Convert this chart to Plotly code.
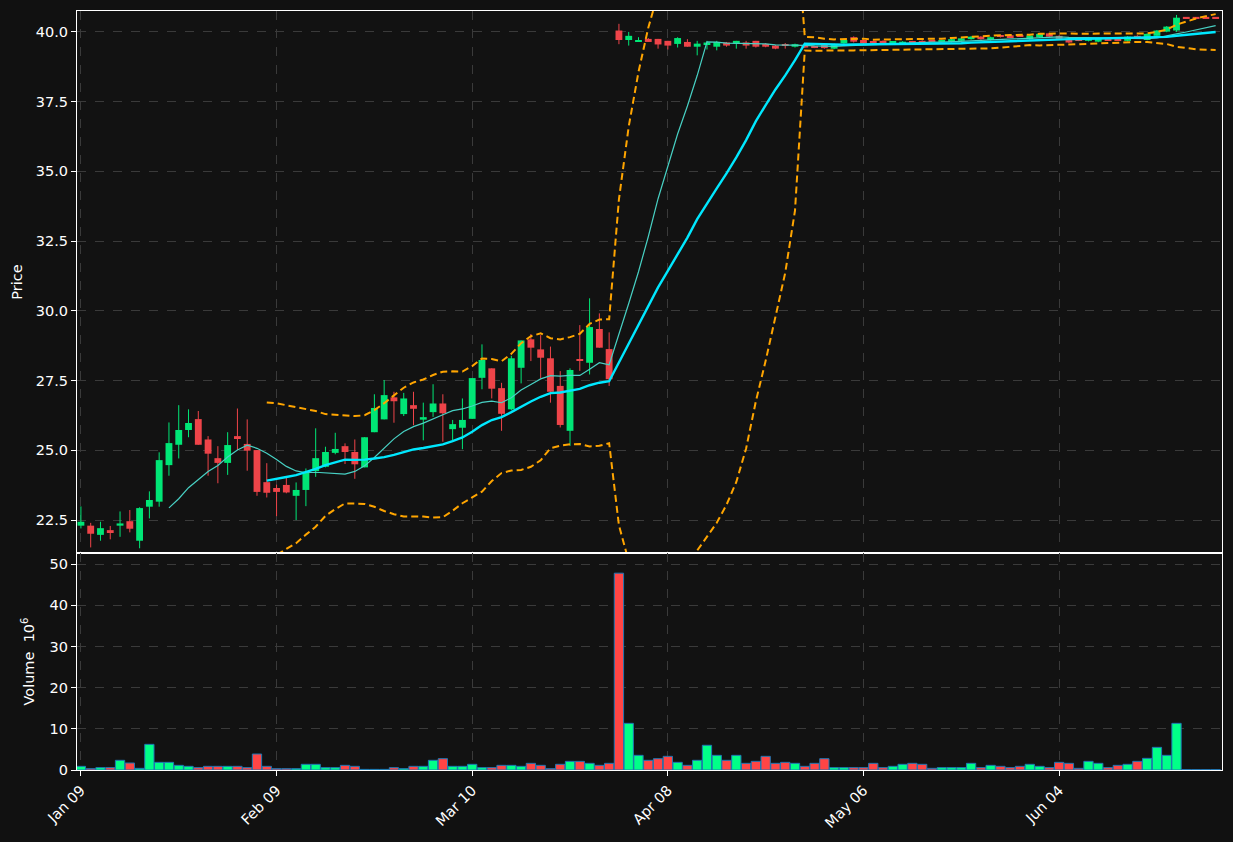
import numpy as np
import pandas as pd
import plotly.graph_objects as go

# ---------------- data ----------------
tick_pos = [0, 20, 40, 60, 80, 100]
tick_labels = ['Jan 09', 'Feb 09', 'Mar 10', 'Apr 08', 'May 06', 'Jun 04']

opens = [22.30, 22.30, 21.97, 22.14, 22.30, 22.46, 21.76, 22.98, 23.16, 24.47,
         25.20, 25.73, 26.12, 25.39, 24.72, 24.55, 25.51, 25.23, 25.01, 23.86,
         23.65, 23.76, 23.37, 23.58, 24.26, 24.41, 24.91, 25.15, 24.94, 24.39,
         25.65, 26.11, 26.90, 26.30, 26.62, 26.10, 26.37, 26.68, 25.76, 25.81,
         26.13, 27.60, 27.94, 27.23, 26.47, 27.96, 28.98, 28.62, 28.30, 27.31,
         25.70, 28.27, 28.14, 29.35, 28.63, 40.05, 39.71, 39.65, 39.75, 39.75,
         39.68, 39.57, 39.64, 39.47, 39.56, 39.47, 39.62, 39.58, 39.62, 39.68,
         39.57, 39.51, 39.55, 39.47, 39.53, 39.46, 39.56, 39.40, 39.59, 39.81,
         39.71, 39.65, 39.68, 39.62, 39.56, 39.66, 39.67, 39.69, 39.65, 39.64,
         39.68, 39.74, 39.83, 39.71, 39.89, 39.88, 39.88, 39.74, 39.81, 39.95,
         39.86, 39.71, 39.70, 39.68, 39.65, 39.72, 39.71, 39.68, 39.86, 39.71,
         39.86, 40.01, 40.05, 40.50, 40.50, 40.50, 40.50]
highs = [22.99, 22.40, 22.44, 22.29, 22.81, 22.86, 22.96, 23.53, 24.93, 26.00,
         26.62, 26.47, 26.41, 25.51, 25.15, 25.65, 26.50, 26.11, 25.01, 24.54,
         23.77, 24.02, 23.85, 24.35, 25.79, 25.13, 25.63, 25.25, 25.39, 25.47,
         27.01, 27.52, 27.10, 27.06, 27.10, 26.71, 27.37, 27.01, 26.09, 26.86,
         27.59, 28.80, 27.94, 27.42, 28.39, 28.94, 29.17, 29.13, 28.72, 27.84,
         27.94, 29.49, 30.45, 29.91, 29.23, 40.29, 40.00, 39.81, 39.78, 39.75,
         39.68, 39.81, 39.74, 39.68, 39.68, 39.68, 39.64, 39.68, 39.68, 39.68,
         39.60, 39.53, 39.60, 39.58, 39.55, 39.50, 39.58, 39.58, 39.73, 39.84,
         39.73, 39.68, 39.70, 39.66, 39.67, 39.68, 39.70, 39.71, 39.72, 39.76,
         39.79, 39.85, 39.85, 39.83, 39.90, 39.90, 39.90, 39.89, 39.95, 39.97,
         39.88, 39.73, 39.72, 39.82, 39.79, 39.74, 39.73, 39.85, 39.88, 39.95,
         40.07, 40.21, 40.61, 40.50, 40.50, 40.50, 40.50]
lows = [22.20, 21.52, 21.76, 21.81, 21.90, 22.06, 21.49, 22.56, 22.98, 24.09,
        24.71, 25.47, 25.20, 24.09, 23.82, 24.12, 25.01, 24.27, 23.37, 23.31,
        22.64, 23.46, 22.50, 23.00, 24.05, 24.39, 24.86, 24.51, 23.98, 24.39,
        25.65, 26.11, 25.99, 26.23, 25.90, 25.36, 26.20, 25.31, 25.37, 25.04,
        26.13, 27.19, 26.86, 25.70, 26.44, 27.40, 28.20, 27.58, 26.71, 25.82,
        25.16, 27.85, 27.72, 28.68, 27.31, 39.56, 39.51, 39.64, 39.64, 39.40,
        39.37, 39.44, 39.47, 39.16, 39.37, 39.34, 39.47, 39.40, 39.40, 39.44,
        39.45, 39.38, 39.40, 39.44, 39.42, 39.42, 39.40, 39.38, 39.57, 39.62,
        39.57, 39.59, 39.57, 39.60, 39.54, 39.58, 39.60, 39.64, 39.63, 39.62,
        39.66, 39.72, 39.72, 39.69, 39.80, 39.79, 39.82, 39.72, 39.79, 39.81,
        39.72, 39.60, 39.67, 39.66, 39.63, 39.69, 39.68, 39.66, 39.76, 39.70,
        39.84, 39.99, 40.00, 40.48, 40.48, 40.48, 40.48]
closes = [22.44, 22.01, 22.21, 22.07, 22.38, 22.19, 22.93, 23.22, 24.65, 25.26,
          25.73, 25.98, 25.20, 24.88, 24.55, 25.19, 25.44, 24.99, 23.51, 23.48,
          23.51, 23.49, 23.58, 24.23, 24.72, 24.94, 25.05, 24.94, 24.50, 25.47,
          26.52, 26.98, 26.76, 26.86, 26.49, 26.19, 26.68, 26.33, 25.94, 26.09,
          27.59, 28.24, 27.21, 26.31, 28.30, 28.94, 28.68, 28.32, 27.10, 25.91,
          27.88, 28.21, 29.42, 28.68, 27.55, 39.71, 39.86, 39.71, 39.64, 39.55,
          39.51, 39.78, 39.47, 39.58, 39.62, 39.64, 39.51, 39.68, 39.51, 39.47,
          39.47, 39.40, 39.50, 39.56, 39.44, 39.45, 39.42, 39.56, 39.71, 39.65,
          39.59, 39.61, 39.59, 39.64, 39.65, 39.61, 39.63, 39.66, 39.70, 39.74,
          39.77, 39.83, 39.74, 39.81, 39.83, 39.81, 39.84, 39.87, 39.93, 39.83,
          39.75, 39.62, 39.69, 39.80, 39.77, 39.71, 39.70, 39.83, 39.78, 39.93,
          40.05, 40.19, 40.51, 40.49, 40.49, 40.49, 40.49]
volume_millions = [0.89, 0.32, 0.57, 0.57, 2.35, 1.70, 0.40, 6.23, 1.86, 1.86,
                   1.13, 0.89, 0.57, 0.89, 0.89, 0.89, 0.89, 0.57, 3.88, 0.89,
                   0.32, 0.32, 0.32, 1.38, 1.38, 0.57, 0.57, 1.13, 0.89, 0.15,
                   0.15, 0.15, 0.57, 0.32, 0.89, 0.89, 2.35, 2.75, 0.89, 0.89,
                   1.38, 0.57, 0.57, 1.13, 1.13, 0.89, 1.62, 1.13, 0.32, 1.38,
                   2.10, 2.10, 1.62, 1.13, 1.62, 47.8, 11.33, 3.56, 2.35, 2.75,
                   3.32, 1.86, 1.13, 2.35, 6.00, 3.56, 2.35, 3.56, 1.62, 2.10,
                   3.32, 1.62, 1.86, 1.62, 0.89, 1.62, 2.75, 0.57, 0.57, 0.57,
                   0.57, 1.62, 0.57, 0.89, 1.38, 1.62, 1.38, 0.40, 0.57, 0.57,
                   0.57, 1.62, 0.57, 1.13, 0.89, 0.57, 0.89, 1.38, 0.89, 0.57,
                   1.86, 1.62, 0.40, 2.10, 1.62, 0.57, 1.13, 1.38, 2.10, 2.83,
                   5.50, 3.56, 11.33, 0.10, 0.10, 0.10, 0.10]

# ---------------- derived ----------------
n = len(closes)
idx = list(range(n))
close_s = pd.Series(closes)
ma10 = close_s.rolling(10).mean()
ma20 = close_s.rolling(20).mean()
sd20 = close_s.rolling(20).std()
bb_up = ma20 + 2 * sd20
bb_dn = ma20 - 2 * sd20

UP_C = '#00e676'
DN_C = '#ee4449'
UP_V = '#00ff88'
DN_V = '#ff4545'

is_up = [c > o for o, c in zip(opens, closes)]
body_base = [min(o, c) for o, c in zip(opens, closes)]
body_h = [max(abs(c - o), 0.05) for o, c in zip(opens, closes)]
body_col = [UP_C if u else DN_C for u in is_up]
vol_col = [UP_V if u else DN_V for u in is_up]

fig = go.Figure()

# wicks
for flag, col in [(True, UP_C), (False, DN_C)]:
    wx, wy = [], []
    for i in idx:
        if is_up[i] == flag:
            wx += [i, i, None]
            wy += [lows[i], highs[i], None]
    fig.add_trace(go.Scatter(x=wx, y=wy, mode='lines', line=dict(color=col, width=1),
                             xaxis='x', yaxis='y', hoverinfo='skip', showlegend=False))

# bodies
fig.add_trace(go.Bar(x=idx, y=body_h, base=body_base, width=0.7,
                     marker=dict(color=body_col, line=dict(width=0)),
                     xaxis='x', yaxis='y', showlegend=False))

# moving averages and bands
fig.add_trace(go.Scatter(x=idx, y=ma10, mode='lines', line=dict(color='#48d1c4', width=1.2),
                         xaxis='x', yaxis='y', showlegend=False))
fig.add_trace(go.Scatter(x=idx, y=ma20, mode='lines', line=dict(color='#00e8ff', width=2.4),
                         xaxis='x', yaxis='y', showlegend=False))
for band in (bb_up, bb_dn):
    fig.add_trace(go.Scatter(x=idx, y=band, mode='lines',
                             line=dict(color='#ffa500', width=2.0, dash='7px,4px'),
                             xaxis='x', yaxis='y', showlegend=False))

# volume
fig.add_trace(go.Bar(x=idx, y=volume_millions, width=0.95,
                     marker=dict(color=vol_col, line=dict(color='#1f77b4', width=1)),
                     xaxis='x2', yaxis='y2', showlegend=False))

FONT = 'DejaVu Sans'
split = 217 / 759
axis_common = dict(showline=True, linecolor='white', linewidth=1.2, mirror=True,
                   showgrid=True, gridcolor='#3a3a3a', griddash='dash', gridwidth=1,
                   zeroline=False, tickfont=dict(family=FONT, size=14.5, color='white'))

fig.update_layout(
    width=1233, height=842,
    paper_bgcolor='#111111', plot_bgcolor='#121212',
    margin=dict(l=77, r=11, t=11, b=72),
    barmode='overlay',
    showlegend=False,
    font=dict(family=FONT, color='white', size=14),
    xaxis=dict(domain=[0, 1], anchor='y', range=[-0.4, 116.65],
               tickvals=tick_pos, ticktext=tick_labels, showticklabels=False,
               ticks='', **axis_common),
    yaxis=dict(domain=[split, 1], anchor='x', range=[21.32, 40.75],
               tickvals=[22.5, 25.0, 27.5, 30.0, 32.5, 35.0, 37.5, 40.0],
               ticktext=['22.5', '25.0', '27.5', '30.0', '32.5', '35.0', '37.5', '40.0'],
               ticks='outside', ticklen=5, tickcolor='white', ticklabelstandoff=0,
               title=dict(text='Price', font=dict(family=FONT, size=14.5, color='white'), standoff=9),
               **axis_common),
    xaxis2=dict(domain=[0, 1], anchor='y2', matches='x', range=[-0.4, 116.65],
                tickvals=tick_pos, ticktext=tick_labels, tickangle=-45,
                ticks='outside', ticklen=5, tickcolor='white', **axis_common),
    yaxis2=dict(domain=[0, split], anchor='x2', range=[0, 52.7],
                tickvals=[0, 10, 20, 30, 40, 50],
                ticks='outside', ticklen=5, tickcolor='white', ticklabelstandoff=0,
                title=dict(text='Volume  10<sup>6</sup>', font=dict(family=FONT, size=14.5, color='white'), standoff=11),
                **axis_common),
)

fig.write_html('out.html',
               config={'displayModeBar': False},
               post_script="document.body.style.margin='0';document.body.style.background='#111111';")
